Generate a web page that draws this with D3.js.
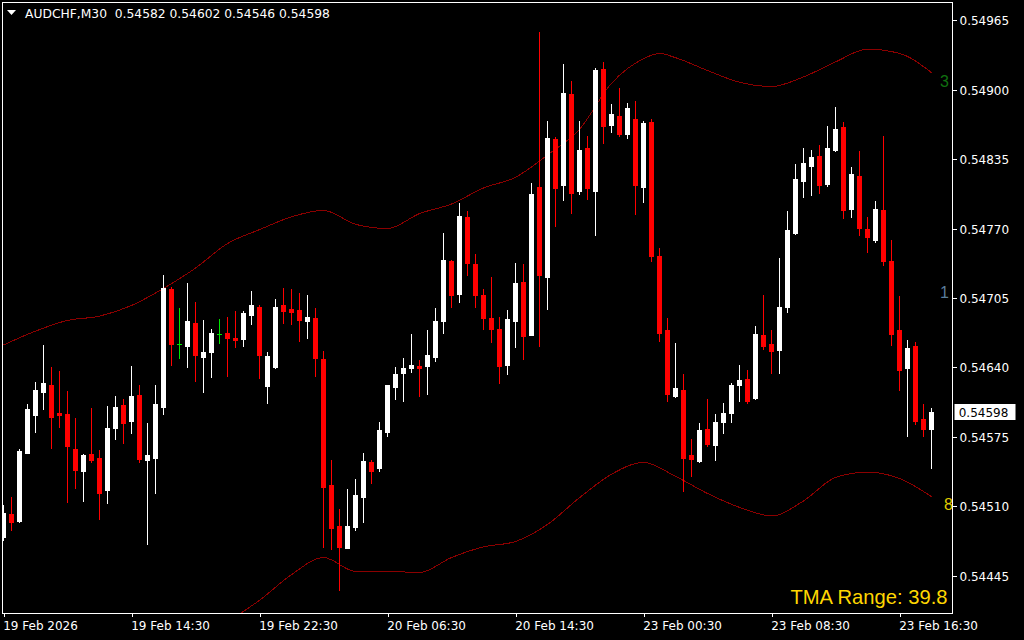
<!DOCTYPE html>
<html>
<head>
<meta charset="utf-8">
<script src="https://cdn.jsdelivr.net/npm/d3@7"></script>
<style>
  html, body { margin: 0; padding: 0; background: #000; }
  svg { display: block; }
</style>
</head>
<body>
<svg id="chart" width="1024" height="640"></svg>
<script>
// ---------- data ----------
const symbolTitle = "AUDCHF,M30";
const headerOHLC = [0.54582, 0.54602, 0.54546, 0.54598];

const opens = [0.54481,0.54503,0.54496,0.54560,0.54595,0.54617,0.54624,0.54597,0.54596,0.54564,
0.54543,0.54559,0.54555,0.54525,0.54583,0.54605,0.54590,0.54614,0.54553,0.54555,
0.54603,0.54713,0.54662,0.54660,0.54682,0.54650,0.54654,0.54671,0.54672,0.54668,
0.54667,0.54689,0.54697,0.54623,0.54640,0.54698,0.54695,0.54694,0.54683,0.54686,
0.54648,0.54530,0.54492,0.54471,0.54491,0.54519,0.54551,0.54546,0.54580,0.54622,
0.54635,0.54639,0.54641,0.54641,0.54650,0.54683,0.54740,0.54709,0.54781,0.54737,
0.54708,0.54686,0.54676,0.54642,0.54683,0.54720,0.54670,0.54809,0.54725,0.54854,
0.54811,0.54896,0.54805,0.54845,0.54805,0.54919,0.54867,0.54875,0.54859,0.54873,
0.54809,0.54870,0.54744,0.54675,0.54613,0.54619,0.54558,0.54552,0.54582,0.54567,
0.54589,0.54597,0.54624,0.54629,0.54611,0.54670,0.54662,0.54656,0.54697,0.54766,
0.54815,0.54829,0.54838,0.54812,0.54844,0.54865,0.54788,0.54819,0.54770,0.54759,
0.54787,0.54740,0.54675,0.54639,0.54660,0.54592,0.54582];
const highs = [0.54511,0.54519,0.54564,0.54606,0.54626,0.54661,0.54640,0.54637,0.54618,0.54593,
0.54559,0.54602,0.54563,0.54604,0.54613,0.54610,0.54641,0.54624,0.54588,0.54624,
0.54727,0.54715,0.54696,0.54719,0.54701,0.54684,0.54676,0.54685,0.54687,0.54693,
0.54693,0.54712,0.54698,0.54654,0.54704,0.54714,0.54713,0.54710,0.54708,0.54696,
0.54655,0.54553,0.54507,0.54526,0.54536,0.54560,0.54553,0.54589,0.54624,0.54640,
0.54649,0.54671,0.54647,0.54675,0.54696,0.54766,0.54741,0.54794,0.54786,0.54746,
0.54713,0.54725,0.54687,0.54694,0.54738,0.54737,0.54813,0.54954,0.54871,0.54856,
0.54924,0.54908,0.54871,0.54857,0.54920,0.54926,0.54887,0.54902,0.54888,0.54889,
0.54871,0.54873,0.54752,0.54686,0.54663,0.54634,0.54573,0.54588,0.54610,0.54596,
0.54607,0.54625,0.54642,0.54638,0.54679,0.54708,0.54675,0.54742,0.54786,0.54830,
0.54845,0.54844,0.54848,0.54866,0.54884,0.54870,0.54828,0.54843,0.54781,0.54796,
0.54857,0.54759,0.54707,0.54666,0.54664,0.54606,0.54602];
const lows = [0.54478,0.54488,0.54495,0.54560,0.54580,0.54601,0.54565,0.54584,0.54514,0.54527,
0.54515,0.54551,0.54498,0.54513,0.54573,0.54569,0.54579,0.54551,0.54475,0.54522,
0.54596,0.54642,0.54649,0.54640,0.54627,0.54617,0.54631,0.54663,0.54632,0.54659,
0.54660,0.54681,0.54630,0.54607,0.54639,0.54682,0.54681,0.54665,0.54668,0.54632,
0.54472,0.54470,0.54432,0.54471,0.54488,0.54495,0.54532,0.54543,0.54576,0.54610,
0.54609,0.54636,0.54613,0.54615,0.54646,0.54672,0.54697,0.54701,0.54727,0.54697,
0.54676,0.54664,0.54625,0.54634,0.54659,0.54648,0.54670,0.54660,0.54695,0.54772,
0.54797,0.54785,0.54802,0.54798,0.54764,0.54850,0.54860,0.54857,0.54855,0.54784,
0.54795,0.54740,0.54665,0.54609,0.54612,0.54524,0.54538,0.54551,0.54566,0.54553,
0.54579,0.54589,0.54609,0.54607,0.54610,0.54657,0.54635,0.54635,0.54692,0.54765,
0.54800,0.54801,0.54803,0.54810,0.54843,0.54780,0.54781,0.54764,0.54748,0.54757,
0.54736,0.54661,0.54619,0.54576,0.54587,0.54576,0.54546];
const closes = [0.54504,0.54495,0.54562,0.54601,0.54619,0.54625,0.54594,0.54595,0.54566,0.54544,
0.54558,0.54553,0.54522,0.54583,0.54603,0.54588,0.54613,0.54554,0.54558,0.54606,
0.54714,0.54662,0.54662,0.54683,0.54652,0.54654,0.54672,0.54671,0.54668,0.54666,
0.54691,0.54698,0.54652,0.54651,0.54697,0.54693,0.54692,0.54684,0.54687,0.54649,
0.54528,0.54490,0.54472,0.54492,0.54521,0.54552,0.54543,0.54581,0.54624,0.54634,
0.54639,0.54642,0.54639,0.54652,0.54683,0.54741,0.54708,0.54782,0.54738,0.54708,
0.54686,0.54676,0.54641,0.54685,0.54719,0.54669,0.54802,0.54727,0.54855,0.54808,
0.54897,0.54803,0.54844,0.54808,0.54918,0.54866,0.54877,0.54859,0.54883,0.54811,
0.54869,0.54744,0.54672,0.54615,0.54621,0.54555,0.54554,0.54581,0.54568,0.54589,
0.54597,0.54624,0.54628,0.54609,0.54671,0.54660,0.54655,0.54697,0.54769,0.54816,
0.54831,0.54837,0.54811,0.54845,0.54863,0.54787,0.54821,0.54771,0.54762,0.54788,
0.54740,0.54671,0.54638,0.54658,0.54590,0.54582,0.54598];

// TMA bands, sampled at these bar indices
const upperBandIdx = [0,4,8,12,16,20,24,28,32,36,40,44,48,52,56,60,64,68,72,76,80,82,84,88,92,96,100,104,108,112,116];
const upperBand = [0.54661,0.54674,0.54684,0.54688,0.54698,0.54714,0.54733,0.54756,0.54769,0.54781,
0.54787,0.54774,0.54770,0.54784,0.54793,0.54808,0.54818,0.54839,0.54863,0.54906,
0.54929,0.54934,0.54930,0.54918,0.54907,0.54903,0.54912,0.54926,0.54938,0.54934,0.54916];
const lowerBandIdx = [28,32,36,40,44,48,52,56,60,64,68,72,76,80,84,88,92,96,100,104,108,112,116];
const lowerBand = [0.54402,0.54422,0.54446,0.54462,0.54449,0.54449,0.54448,0.54462,0.54472,0.54477,
0.54493,0.54518,0.54540,0.54551,0.54538,0.54522,0.54509,0.54501,0.54515,0.54537,0.54542,0.54536,0.54519];

const priceTicks = [0.54965,0.54900,0.54835,0.54770,0.54705,0.54640,0.54575,0.54510,0.54445];
const timeTickIdx = [0,16,32,48,64,80,96,112];
const timeTickLabels = ["19 Feb 2026","19 Feb 14:30","19 Feb 22:30","20 Feb 06:30","20 Feb 14:30","23 Feb 00:30","23 Feb 08:30","23 Feb 16:30"];

const lastPrice = 0.54598;
const tmaRangeText = "TMA Range: 39.8";
const sideMarks = [{t:"3", v:0.54908, c:"#107010"}, {t:"1", v:0.54710, c:"#5b7d9b"}, {t:"8", v:0.54512, c:"#e0cc00"}];

// ---------- drawing ----------
const svg = d3.select("#chart");
const W = 1024, H = 640;
const plot = {l: 2.5, t: 2.5, r: 952.5, b: 613};

svg.append("rect").attr("width", W).attr("height", H).attr("fill", "#000");

const x = d3.scaleLinear().domain([0, 116]).range([3.5, 931.5]);
const y = d3.scaleLinear().domain([0.54445, 0.54965]).range([575.7, 20.3]);

svg.append("defs").append("clipPath").attr("id", "clip")
  .append("rect").attr("x", plot.l).attr("y", plot.t).attr("width", plot.r - plot.l).attr("height", plot.b - plot.t);

const g = svg.append("g").attr("clip-path", "url(#clip)");

// bands
const bandLine = d3.line().x(d => x(d[0])).y(d => y(d[1])).curve(d3.curveMonotoneX);
g.append("path").datum(upperBandIdx.map((k, j) => [k, upperBand[j]]))
  .attr("d", bandLine).attr("fill", "none").attr("stroke", "#8b0000").attr("stroke-width", 1)
  .attr("shape-rendering", "crispEdges");
g.append("path").datum(lowerBandIdx.map((k, j) => [k, lowerBand[j]]))
  .attr("d", bandLine).attr("fill", "none").attr("stroke", "#8b0000").attr("stroke-width", 1)
  .attr("shape-rendering", "crispEdges");

// candles
const candles = opens.map((o, i) => ({i, o, h: highs[i], l: lows[i], c: closes[i]}));
const colorOf = d => d.c > d.o ? "#ffffff" : (d.c < d.o ? "#ff0000" : "#00e600");
const cg = g.append("g").selectAll("g").data(candles).join("g");
cg.append("line")
  .attr("x1", d => x(d.i)).attr("x2", d => x(d.i))
  .attr("y1", d => Math.round(y(d.h))).attr("y2", d => Math.round(y(d.l)) + 1)
  .attr("stroke", colorOf).attr("stroke-width", 1).attr("shape-rendering", "crispEdges");
cg.append("rect")
  .attr("x", d => x(d.i) - 2.5)
  .attr("width", 5)
  .attr("y", d => Math.round(y(Math.max(d.o, d.c))))
  .attr("height", d => Math.max(1, Math.round(y(Math.min(d.o, d.c))) - Math.round(y(Math.max(d.o, d.c))) + (d.o === d.c ? 0 : 1)))
  .attr("fill", colorOf).attr("shape-rendering", "crispEdges");

// frame
svg.append("rect").attr("x", plot.l).attr("y", plot.t)
  .attr("width", plot.r - plot.l).attr("height", plot.b - plot.t)
  .attr("fill", "none").attr("stroke", "#ffffff").attr("stroke-width", 1).attr("shape-rendering", "crispEdges");

// right price axis
const yAxis = d3.axisRight(y).tickValues(priceTicks).tickSize(4).tickPadding(3).tickFormat(d3.format(".5f"));
const ya = svg.append("g").attr("transform", `translate(${plot.r},0)`).call(yAxis);
ya.select(".domain").remove();
ya.selectAll("line").attr("stroke", "#fff").attr("shape-rendering", "crispEdges");
ya.selectAll("text").attr("fill", "#fff").attr("font-family", "DejaVu Sans").attr("font-size", 12)
  .attr("dy", "0.37em");

// bottom time axis
const xAxis = d3.axisBottom(x).tickValues(timeTickIdx).tickSize(4)
  .tickFormat((d, k) => timeTickLabels[k]);
const xa = svg.append("g").attr("transform", `translate(0,${plot.b})`).call(xAxis);
xa.select(".domain").remove();
xa.selectAll("line").attr("stroke", "#fff").attr("shape-rendering", "crispEdges");
xa.selectAll("text").attr("fill", "#fff").attr("font-family", "DejaVu Sans").attr("font-size", 12)
  .attr("text-anchor", "start").attr("x", -0.8).attr("y", 17).attr("dy", 0);

// last price label
const lp = y(lastPrice);
svg.append("rect").attr("x", 954.5).attr("y", Math.round(lp) - 8).attr("width", 61).attr("height", 16)
  .attr("fill", "#fff");
svg.append("text").attr("x", 958.7).attr("y", lp).attr("dy", "0.37em")
  .attr("font-family", "DejaVu Sans").attr("font-size", 12).attr("fill", "#000")
  .text(d3.format(".5f")(lastPrice));

// header
svg.append("path").attr("d", "M7,10 L16,10 L11.5,15 Z").attr("fill", "#fff");
svg.append("text").attr("x", 25).attr("y", 18)
  .attr("font-family", "DejaVu Sans").attr("font-size", 12.3).attr("fill", "#fff")
  .attr("xml:space", "preserve")
  .text(symbolTitle + "  " + headerOHLC.map(d3.format(".5f")).join(" "));

// side marks
svg.selectAll("text.mark").data(sideMarks).join("text").attr("class", "mark")
  .attr("x", d => d.t === "8" ? 953 : 949).attr("y", d => y(d.v) + 5.5)
  .attr("text-anchor", "end").attr("font-family", "Liberation Sans").attr("font-size", 16)
  .attr("fill", d => d.c).text(d => d.t);

// TMA range
svg.append("text").attr("x", 947.5).attr("y", 604).attr("text-anchor", "end")
  .attr("font-family", "Liberation Sans").attr("font-size", 20.2).attr("fill", "#ffd700")
  .text(tmaRangeText);
</script>
</body>
</html>
